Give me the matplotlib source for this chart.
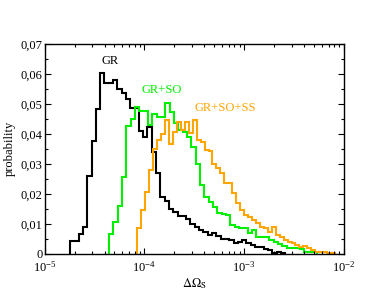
import numpy as np
import matplotlib
matplotlib.use("Agg")
import matplotlib.pyplot as plt
from matplotlib.ticker import FuncFormatter, LogLocator, MultipleLocator

plt.rcParams['font.family'] = ['Liberation Serif', 'DejaVu Serif']
plt.rcParams['mathtext.fontset'] = 'stix'

# ---- data: log10 bin start, log10 bin width, probabilities per bin ----
gr_log_start, gr_log_width = -4.7445, 0.0431
gr_values = [0.0042, 0.0042, 0.0066, 0.0089, 0.0259, 0.0376, 0.0483, 0.0602,
             0.0571, 0.0571, 0.0580, 0.0549, 0.0535, 0.0515, 0.0487, 0.0485,
             0.0408, 0.0390, 0.0424, 0.0340, 0.0270, 0.0190, 0.0175, 0.0150,
             0.0138, 0.0126, 0.0125, 0.0115, 0.0098, 0.0088, 0.0078, 0.0072,
             0.0062, 0.0068, 0.0060, 0.0050, 0.0048, 0.0045, 0.0036, 0.0040,
             0.0045, 0.0035, 0.0029, 0.0023, 0.0022, 0.0017, 0.0011, 0.0003,
             0.0007, 0.0002]

so_log_start, so_log_width = -4.3537, 0.0434
so_values = [0.0067, 0.0107, 0.0160, 0.0256, 0.0425, 0.0450, 0.0490, 0.0475,
             0.0475, 0.0430, 0.0467, 0.0457, 0.0457, 0.0502, 0.0474, 0.0437,
             0.0413, 0.0407, 0.0390, 0.0357, 0.0301, 0.0228, 0.0188, 0.0171,
             0.0157, 0.0135, 0.0132, 0.0129, 0.0096, 0.0090, 0.0085, 0.0085,
             0.0068, 0.0079, 0.0057, 0.0057, 0.0057, 0.0046, 0.0040, 0.0032,
             0.0026, 0.0020, 0.0018, 0.0018, 0.0016, 0.0007, 0.0007, 0.0007]

ss_log_start, ss_log_width = -4.0701, 0.0396
ss_values = [0.0085, 0.0145, 0.0205, 0.0280, 0.0350, 0.0380, 0.0400, 0.0448,
             0.0366, 0.0407, 0.0440, 0.0413, 0.0441, 0.0402, 0.0446, 0.0380,
             0.0374, 0.0346, 0.0344, 0.0300, 0.0285, 0.0268, 0.0235, 0.0235,
             0.0201, 0.0168, 0.0146, 0.0129, 0.0124, 0.0112, 0.0101, 0.0090,
             0.0085, 0.0074, 0.0090, 0.0062, 0.0057, 0.0046, 0.0040, 0.0035,
             0.0030, 0.0023, 0.0025, 0.0018, 0.0012, 0.0007, 0.0007, 0.0005,
             0.0003, 0.0003]

series_labels = ["GR", "GR+SO", "GR+SO+SS"]
series_colors = ["black", "#00f000", "#ffa500"]


def edges(start, width, n):
    return 10.0 ** (start + width * np.arange(n + 1))


fig = plt.figure(figsize=(3.87, 2.99), dpi=100)
ax = fig.add_axes([0.1150, 0.1515, 0.7739, 0.7013])

for (start, width, vals), col in zip(
        [(gr_log_start, gr_log_width, gr_values),
         (so_log_start, so_log_width, so_values),
         (ss_log_start, ss_log_width, ss_values)], series_colors):
    ax.stairs(vals, edges(start, width, len(vals)), baseline=0,
              color=col, lw=1.5, fill=False)

ax.set_xscale('log')
ax.set_xlim(1e-5, 1e-2)
ax.set_ylim(0, 0.07)

ax.yaxis.set_major_locator(MultipleLocator(0.01))
ax.yaxis.set_minor_locator(MultipleLocator(0.005))
ax.yaxis.set_major_formatter(FuncFormatter(
    lambda v, p: "0" if abs(v) < 1e-9 else ("%.2f" % v).replace('.', ',')))
ax.xaxis.set_major_locator(LogLocator(base=10, numticks=10))
ax.xaxis.set_minor_locator(LogLocator(base=10, subs=np.arange(2, 10), numticks=20))

ax.tick_params(which='both', direction='in', top=True, right=True,
               labelsize=9, width=0.8)
ax.tick_params(which='major', length=4.5)
ax.tick_params(which='minor', length=2.2)
ax.tick_params(axis='y', pad=1.5)
ax.tick_params(axis='x', pad=4.5)
for sp in ax.spines.values():
    sp.set_linewidth(1.0)

ax.set_ylabel("probability", fontsize=9, labelpad=3.5)
ax.set_xlabel(r"$\Delta\Omega_{\mathrm{S}}$", fontsize=9, labelpad=1)

ax.text(4.58e-5, 0.0643, series_labels[0], color=series_colors[0],
        fontsize=9, ha='center', va='center')
ax.text(1.49e-4, 0.0548, series_labels[1], color=series_colors[1],
        fontsize=9, ha='center', va='center')
ax.text(6.44e-4, 0.0486, series_labels[2], color=series_colors[2],
        fontsize=9, ha='center', va='center')

fig.savefig("out.png", dpi=100)
